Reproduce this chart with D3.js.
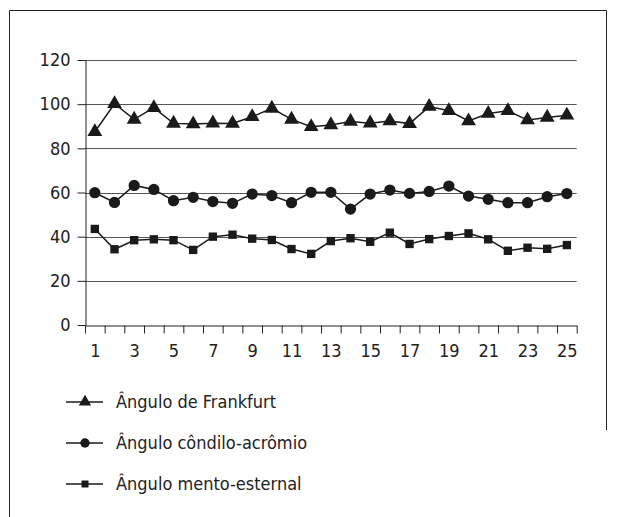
<!DOCTYPE html>
<html>
<head>
<meta charset="utf-8">
<script src="https://cdnjs.cloudflare.com/ajax/libs/d3/7.8.5/d3.min.js"></script>
<style>
  body { margin: 0; background: #fff; }
  #chart { width: 617px; height: 517px; }
  text { font-family: "Liberation Sans Narrow", "DejaVu Sans Condensed", "Arial Narrow", sans-serif; fill: #222; }
</style>
</head>
<body>
<div id="chart"></div>
<script>
// Data
var positions = d3.range(1, 26);
var xLabels = [1, 3, 5, 7, 9, 11, 13, 15, 17, 19, 21, 23, 25];
var yTicks = [0, 20, 40, 60, 80, 100, 120];

var frankfurt = [87.5, 100.2, 93.1, 98.4, 91.3, 91, 91.4, 91.3, 94.3, 98.1, 93.1, 89.8, 90.6,
                 92.2, 91.4, 92.4, 91.2, 98.9, 97, 92.4, 95.8, 97, 92.8, 94, 95];
var condilo = [59.9, 55.5, 63.2, 61.4, 56.3, 57.8, 55.9, 55.1, 59.3, 58.6, 55.4, 60.1, 60.1,
               52.5, 59.3, 61.1, 59.6, 60.5, 62.9, 58.4, 56.9, 55.4, 55.4, 58.1, 59.5];
var mento = [43.5, 34.3, 38.4, 38.8, 38.4, 34, 40, 40.9, 39.1, 38.5, 34.4, 32.2, 38,
             39.3, 37.7, 41.8, 36.7, 38.9, 40.3, 41.5, 38.8, 33.6, 35, 34.5, 36.2];

var seriesNames = ["Ângulo de Frankfurt", "Ângulo côndilo-acrômio", "Ângulo mento-esternal"];
var seriesValues = [frankfurt, condilo, mento];
var seriesSymbols = [d3.symbolTriangle, d3.symbolCircle, d3.symbolSquare];
var symbolSizes = [95, 100, 70];

var width = 617, height = 517;
var svg = d3.select("#chart").append("svg")
    .attr("width", width)
    .attr("height", height);

// Outer frame (left, top, right)
svg.append("path")
    .attr("d", "M9.5,517 V10.5 H606.5 V430")
    .attr("fill", "none")
    .attr("stroke", "#222")
    .attr("stroke-width", 1);

// Scales
var x = d3.scaleLinear().domain([0.5, 25.5]).range([85, 576.7]);
var y = d3.scaleLinear().domain([0, 120]).range([325, 60]);

// Gridlines
svg.append("g").selectAll("line")
    .data(yTicks.filter(function(d) { return d > 0; }))
    .enter().append("line")
    .attr("x1", x(0.5)).attr("x2", x(25.5))
    .attr("y1", function(d) { return Math.round(y(d)) + 0.5; })
    .attr("y2", function(d) { return Math.round(y(d)) + 0.5; })
    .attr("stroke", "#555")
    .attr("stroke-width", 1);

// Y axis
var yAxis = svg.append("g")
    .attr("transform", "translate(" + (x(0.5) + 0.5) + ",0)")
    .call(d3.axisLeft(y).tickValues(yTicks).tickSize(8).tickPadding(7).tickSizeOuter(0));
yAxis.selectAll("text").style("font-size", "18px");

// X axis: ticks between categories, labels on odd categories
var xAxisG = svg.append("g")
    .attr("transform", "translate(0," + (Math.round(y(0)) + 0.5) + ")");
xAxisG.call(d3.axisBottom(x).tickValues(d3.range(0.5, 26, 1)).tickSize(8).tickFormat("").tickSizeOuter(0));
var xLab = svg.append("g")
    .attr("transform", "translate(0," + (Math.round(y(0)) + 0.5) + ")")
    .call(d3.axisBottom(x).tickValues(xLabels).tickSize(0).tickPadding(19));
xLab.select(".domain").remove();
xLab.selectAll("text").style("font-size", "18px");

svg.selectAll(".domain, .tick line").attr("stroke", "#222");

// Series
var line = d3.line()
    .x(function(d, i) { return x(positions[i]); })
    .y(function(d) { return y(d); });

seriesValues.forEach(function(vals, s) {
    var g = svg.append("g").attr("class", "series");
    g.append("path")
        .datum(vals)
        .attr("d", line)
        .attr("fill", "none")
        .attr("stroke", "#1a1a1a")
        .attr("stroke-width", 1.5);
    g.selectAll(".mark")
        .data(vals)
        .enter().append("path")
        .attr("class", "mark")
        .attr("transform", function(d, i) { return "translate(" + x(positions[i]) + "," + y(d) + ")"; })
        .attr("d", d3.symbol().type(seriesSymbols[s]).size(symbolSizes[s]))
        .attr("fill", "#1a1a1a");
});

// Legend
var legend = svg.append("g").attr("transform", "translate(66,0)");
var legendRows = [402, 443, 484];
seriesNames.forEach(function(name, s) {
    var row = legend.append("g").attr("transform", "translate(0," + legendRows[s] + ")");
    row.append("line")
        .attr("x1", 0).attr("x2", 37)
        .attr("stroke", "#1a1a1a").attr("stroke-width", 1.5);
    row.append("path")
        .attr("transform", "translate(19,0)")
        .attr("d", d3.symbol().type(seriesSymbols[s]).size(symbolSizes[s] * 0.7))
        .attr("fill", "#1a1a1a");
    row.append("text")
        .attr("x", 50)
        .attr("dy", "0.35em")
        .style("font-size", "18px")
        .text(name);
});
</script>
</body>
</html>
